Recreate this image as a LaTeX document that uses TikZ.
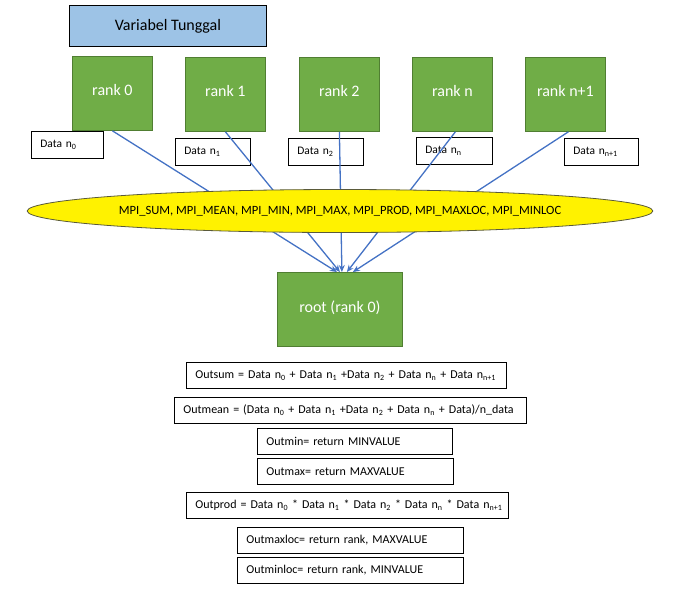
\documentclass[tikz,border=0pt]{standalone}
\usepackage{fontspec}
\setmainfont{Carlito}
\usetikzlibrary{shapes.geometric,arrows.meta}
\definecolor{rankgreen}{HTML}{70AD47}
\definecolor{rankborder}{HTML}{507E32}
\definecolor{titleblue}{HTML}{9DC3E6}
\definecolor{linkblue}{HTML}{4472C4}
\definecolor{ellborder}{HTML}{5A5A3A}
\newcommand{\sbs}[1]{\textsubscript{#1}}
\tikzset{
  rankbox/.style={draw=rankborder, fill=rankgreen, line width=0.8pt, text=white,
    font=\fontsize{16}{18}\selectfont, minimum width=80pt, minimum height=74pt,
    inner sep=0pt, anchor=north west, text depth=6pt},
  titlebox/.style={draw=black, fill=titleblue, line width=0.9pt,
    font=\fontsize{16}{18}\selectfont, minimum width=197pt, minimum height=41pt,
    inner sep=0pt, anchor=north west},
  databox/.style={draw=black, line width=0.8pt, font=\fontsize{11.5}{13}\selectfont,
    minimum height=27pt, inner xsep=9pt, inner ysep=0pt, anchor=north west,
    align=left, text width=#1},
  outbox/.style={draw=black, line width=0.8pt, font=\fontsize{12}{14}\selectfont,
    minimum height=26pt, inner xsep=9pt, inner ysep=0pt, anchor=north west,
    align=left, text width=#1},
  link/.style={draw=linkblue, line width=1.3pt},
  linkarrow/.style={link, -{Stealth[length=7pt,width=6pt]}},
  opell/.style={ellipse, draw=ellborder, fill=yellow, line width=0.8pt,
    minimum width=528pt, minimum height=43pt, inner sep=0pt,
    font=\fontsize{12.6}{14}\selectfont}
}
\begin{document}
\begin{tikzpicture}[x=1pt,y=-1pt]
\useasboundingbox (0,0) rectangle (686,590);
\node[titlebox] (title) at (69,5) {Variabel Tunggal};
\node[rankbox] (r0) at (72,56) {rank 0};
\node[rankbox] (r1) at (185,57) {rank 1};
\node[rankbox] (r2) at (299,57) {rank 2};
\node[rankbox] (rn) at (412,57) {rank n};
\node[rankbox] (rn1) at (525,57) {rank n+1};
\node[databox=54pt] (d0) at (31,131) {\mbox{Data n\sbs{0}}};
\node[databox=57pt] (d1) at (175,138) {\mbox{Data n\sbs{1}}};
\node[databox=57pt] (d2) at (288,138) {\mbox{Data n\sbs{2}}};
\node[databox=58pt] (dn) at (416,137) {\mbox{Data n\sbs{n}}};
\node[databox=56pt] (dn1) at (564,138) {\mbox{Data n\sbs{n+1}}};
\node[rankbox, minimum width=125pt] (root) at (277,272) {root (rank 0)};
\draw[linkarrow] (r0.south) -- ([xshift=-3pt]root.north);
\draw[linkarrow] (r1.south) -- ([xshift=0pt]root.north);
\draw[linkarrow] (r2.south) -- ([xshift=2pt]root.north);
\draw[linkarrow] ([xshift=3pt]rn.south) -- ([xshift=7pt]root.north);
\draw[linkarrow] ([xshift=3pt]rn1.south) -- ([xshift=13pt]root.north);
\node[opell] (ops) at (340,211) {MPI\_SUM, MPI\_MEAN, MPI\_MIN, MPI\_MAX, MPI\_PROD, MPI\_MAXLOC, MPI\_MINLOC};
\node[outbox=302pt] (osum) at (186,362) {\mbox{Outsum = Data n\sbs{0} + Data n\sbs{1} +Data n\sbs{2} + Data n\sbs{n} + Data n\sbs{n+1}}};
\node[outbox=334pt] (omean) at (174,397) {\mbox{Outmean = (Data n\sbs{0} + Data n\sbs{1} +Data n\sbs{2} + Data n\sbs{n} + Data)/n\_data}};
\node[outbox=177pt] (omin) at (257,428) {\mbox{Outmin= return MINVALUE}};
\node[outbox=178pt] (omax) at (257,458) {\mbox{Outmax= return MAXVALUE}};
\node[outbox=304pt] (oprod) at (186,492) {\mbox{Outprod = Data n\sbs{0} * Data n\sbs{1} * Data n\sbs{2} * Data n\sbs{n} * Data n\sbs{n+1}}};
\node[outbox=208pt] (omaxloc) at (237,527) {\mbox{Outmaxloc= return rank, MAXVALUE}};
\node[outbox=208pt] (ominloc) at (237,557) {\mbox{Outminloc= return rank, MINVALUE}};
\end{tikzpicture}
\end{document}
